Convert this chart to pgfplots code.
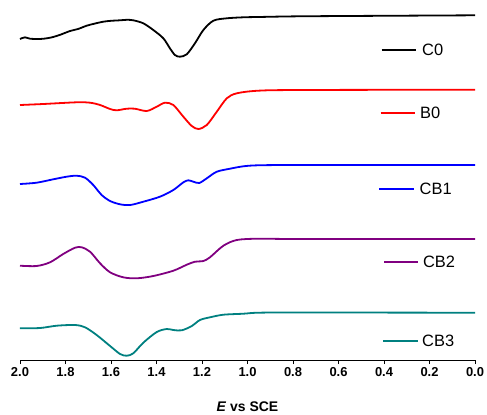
\documentclass[border=0pt]{standalone}
\usepackage{fontspec}
\setmainfont{Liberation Sans}
\usepackage{pgfplots}
\pgfplotsset{compat=1.18}

\definecolor{cpurple}{RGB}{128,0,128}
\definecolor{cteal}{RGB}{0,128,128}

% y is in picture units: 0 = axis line, 360 = top of the page
\begin{document}
\begin{tikzpicture}
\begin{axis}[
    scale only axis,
    width=455bp, height=360bp,
    xmin=0, xmax=2, ymin=0, ymax=360,
    x dir=reverse,
    hide y axis,
    axis x line=bottom,
    axis line style={-, line width=0.9bp},
    xtick={0,0.2,...,2.01},
    tick align=outside,
    major tick length=4bp,
    tick style={black, line width=0.9bp},
    xticklabel style={font=\fontsize{13}{15}\selectfont\bfseries},
    /pgf/number format/.cd, fixed, fixed zerofill, precision=1, assume math mode=true,
    /pgfplots/.cd,
    xlabel={\textit{E} vs SCE},
    xlabel style={font=\fontsize{14}{16}\selectfont\bfseries,
        at={(axis description cs:0.5,-0.142)}, anchor=base},
    clip=false,
    every axis plot/.append style={line width=1.8bp, smooth, tension=0.5},
]
% C0
\addplot[black] coordinates {
(2.000,321) (1.978,322.7) (1.956,321.3) (1.912,321) (1.880,321.8) (1.854,323)
(1.820,325.5) (1.780,329) (1.745,331) (1.707,334.3) (1.670,336.5) (1.634,338.3)
(1.600,339.2) (1.560,339.7) (1.530,340.2) (1.502,339.7) (1.458,336.7) (1.414,330)
(1.370,321.7) (1.341,311.7) (1.319,305) (1.297,303.3) (1.267,305.7) (1.231,316.7)
(1.194,330) (1.150,339.3) (1.091,341.7) (1.018,342.7) (0.953,343) (0.769,343.7)
(0.330,344.3) (0,344.7)};
% B0
\addplot[red] coordinates {
(2.000,255) (1.898,256) (1.751,257.7) (1.692,257.3) (1.648,255) (1.604,251)
(1.575,249.7) (1.531,251.3) (1.495,251.3) (1.443,249) (1.399,253.3) (1.363,257.3)
(1.326,255) (1.282,243.3) (1.245,234) (1.216,231) (1.179,235) (1.135,248.3)
(1.091,261.7) (1.047,266.7) (0.953,269.3) (0.769,270) (0,270.3)};
% CB1
\addplot[blue] coordinates {
(2.000,176) (1.927,177.3) (1.854,180.7) (1.795,183.3) (1.751,184.3) (1.714,182.3)
(1.678,175) (1.641,165) (1.604,159) (1.560,155.7) (1.516,155) (1.458,158.3)
(1.385,163.3) (1.326,170) (1.282,177.7) (1.260,179.7) (1.238,178.3) (1.212,177)
(1.179,181.7) (1.135,188.3) (1.077,191.3) (1.018,193.7) (0.953,194.7) (0.769,195)
(0,195)};
% CB2
\addplot[cpurple] coordinates {
(2.000,94.3) (1.927,94) (1.868,97.7) (1.810,106) (1.758,112.3) (1.729,112.7)
(1.692,108.3) (1.648,96.7) (1.604,87.7) (1.546,82.7) (1.487,81.7) (1.414,84)
(1.326,89.3) (1.267,95.3) (1.231,98.3) (1.194,99) (1.165,102.7) (1.106,114.3)
(1.047,120) (0.953,121.3) (0.769,121) (0,121)};
% CB3
\addplot[cteal] coordinates {
(2.000,31.7) (1.912,32) (1.839,34.3) (1.758,35) (1.714,32.7) (1.663,25)
(1.604,14) (1.560,6) (1.531,4.3) (1.502,6.7) (1.458,17.3) (1.399,28)
(1.355,31) (1.326,30) (1.289,29.7) (1.245,34) (1.209,40) (1.165,42.7)
(1.106,45.3) (1.018,46.3) (0.953,47.3) (0.769,47.5) (0,47.3)};

% labels beside each curve
\draw[black, line width=1.8bp] (axis cs:0.410,310) -- (axis cs:0.261,310);
\node[anchor=west, inner sep=0, font=\fontsize{16.5}{18}\selectfont] at (axis cs:0.233,310) {C0};
\draw[red, line width=1.8bp] (axis cs:0.415,246.7) -- (axis cs:0.264,246.7);
\node[anchor=west, inner sep=0, font=\fontsize{16.5}{18}\selectfont] at (axis cs:0.242,246.7) {B0};
\draw[blue, line width=1.8bp] (axis cs:0.422,171) -- (axis cs:0.268,171);
\node[anchor=west, inner sep=0, font=\fontsize{16.5}{18}\selectfont] at (axis cs:0.244,171) {CB1};
\draw[cpurple, line width=1.8bp] (axis cs:0.400,98.3) -- (axis cs:0.251,98.3);
\node[anchor=west, inner sep=0, font=\fontsize{16.5}{18}\selectfont] at (axis cs:0.229,98.3) {CB2};
\draw[cteal, line width=1.8bp] (axis cs:0.404,19) -- (axis cs:0.251,19);
\node[anchor=west, inner sep=0, font=\fontsize{16.5}{18}\selectfont] at (axis cs:0.233,19) {CB3};

\coordinate (tl) at (axis cs:2.0879,360);
\coordinate (br) at (axis cs:-0.0527,-54);
\end{axis}
\pgfresetboundingbox
\path (tl) rectangle (br);
\end{tikzpicture}
\end{document}
